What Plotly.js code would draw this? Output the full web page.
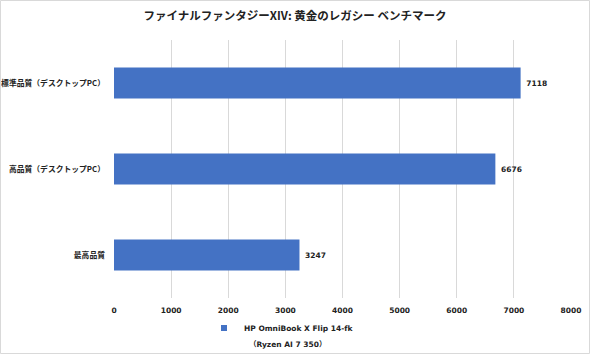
<!DOCTYPE html>
<html>
<head>
<meta charset="utf-8">
<script src="https://cdn.plot.ly/plotly-3.0.1.min.js"></script>
<style>html,body{margin:0;padding:0;background:#fff;}#chart{width:590px;height:354px;}</style>
</head>
<body>
<div id="chart"></div>
<script>
const categories = ["最高品質", "高品質（デスクトップPC）", "標準品質（デスクトップPC）"];
const scores = [3247, 6676, 7118];
const seriesName = "HP OmniBook X Flip 14-fk";
const seriesSubName = "（Ryzen AI 7 350）";
const xTicks = [0, 1000, 2000, 3000, 4000, 5000, 6000, 7000, 8000];
const chartTitle = "ファイナルファンタジーXIV: 黄金のレガシー ベンチマーク";

const FONT = "'DejaVu Sans', 'Noto Sans CJK JP', sans-serif";
const CJK = "'Noto Sans CJK JP', 'DejaVu Sans', sans-serif";
const BLUE = "#4472C4";
const L = 114, R = 19, T = 40, B = 56, W = 590, H = 354;
const pw = W - L - R, ph = H - T - B;

const barTrace = {
  type: "bar",
  orientation: "h",
  y: categories,
  x: scores,
  name: seriesName,
  marker: {color: BLUE},
  width: 0.36,
  text: scores.map(String),
  texttemplate: " %{text}",
  textposition: "outside",
  cliponaxis: false,
  textfont: {family: FONT, size: 7.5, color: "#222", weight: 700},
  showlegend: false,
  hoverinfo: "x+y"
};

const legendTrace = {
  type: "scatter",
  mode: "markers",
  x: [null], y: [null],
  name: seriesName,
  marker: {color: BLUE, symbol: "square", size: 6},
  showlegend: true,
  hoverinfo: "skip"
};

const layout = {
  width: W, height: H,
  margin: {l: L, r: R, t: T, b: B, pad: 0},
  paper_bgcolor: "#fff",
  plot_bgcolor: "#fff",
  font: {family: FONT, color: "#222", size: 8, weight: 700},
  title: {
    text: "<b>" + chartTitle + "</b>",
    font: {family: CJK, size: 11.5, color: "#222"},
    x: 0.5, xref: "container", xanchor: "center",
    y: 1 - 16/H, yref: "container", yanchor: "middle"
  },
  xaxis: {
    range: [0, 8000],
    tickvals: xTicks,
    ticktext: xTicks.map(String),
    showgrid: true, gridcolor: "#d9d9d9", gridwidth: 1,
    zeroline: false,
    showline: false,
    ticks: "",
    ticklabelstandoff: 6,
    tickfont: {family: FONT, size: 7.5, color: "#222", weight: 700}
  },
  yaxis: {
    range: [-0.5, 2.5],
    showgrid: false, zeroline: false, showline: false,
    ticks: "",
    ticklabelstandoff: 8,
    tickfont: {family: CJK, size: 7.8, color: "#222", weight: 700}
  },
  legend: {
    orientation: "h",
    xref: "container", yref: "container",
    x: 204/W, xanchor: "left",
    y: 1 - 328/H, yanchor: "middle",
    font: {family: FONT, size: 7.5, color: "#222", weight: 700},
    itemwidth: 30,
    bgcolor: "rgba(0,0,0,0)"
  },
  annotations: [{
    text: seriesSubName,
    xref: "paper", yref: "paper",
    x: (247 - L)/pw, xanchor: "left",
    y: (H - B - 344)/ph, yanchor: "middle",
    showarrow: false,
    font: {family: FONT, size: 7.5, color: "#222", weight: 700}
  }],
  shapes: [{
    type: "rect", xref: "paper", yref: "paper", layer: "above",
    x0: (0.5 - L)/pw, x1: (W - 0.5 - L)/pw,
    y0: (H - B - (H - 0.5))/ph, y1: (H - B - 0.5)/ph,
    line: {color: "#d9d9d9", width: 1}, fillcolor: "rgba(0,0,0,0)"
  }]
};

Plotly.newPlot("chart", [barTrace, legendTrace], layout, {displayModeBar: false, staticPlot: true});
</script>
</body>
</html>
